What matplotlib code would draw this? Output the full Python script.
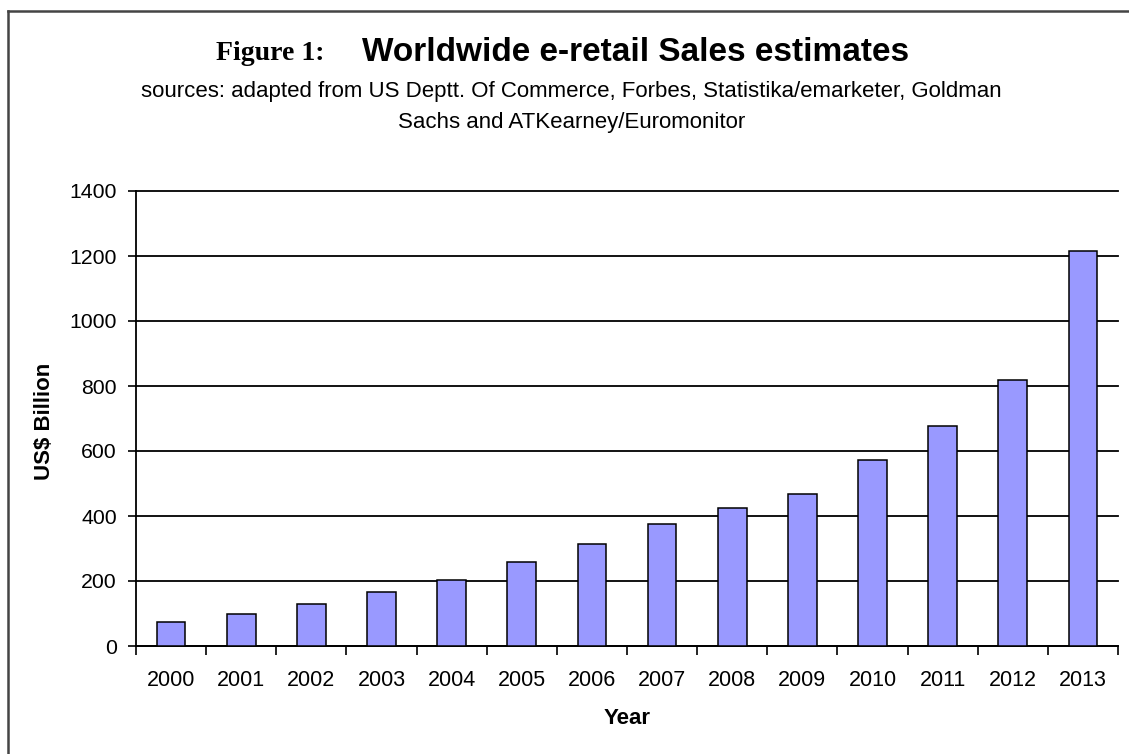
import matplotlib
matplotlib.use('Agg')
import matplotlib.pyplot as plt
import numpy as np
from matplotlib.lines import Line2D

# ---- data ----
years = ['2000', '2001', '2002', '2003', '2004', '2005', '2006',
         '2007', '2008', '2009', '2010', '2011', '2012', '2013']
sales = [73, 98, 128, 165, 203, 258, 314, 375, 424, 467, 571, 677, 818, 1215]
yticks = [0, 200, 400, 600, 800, 1000, 1200, 1400]

title_prefix = 'Figure 1:'
title_main = 'Worldwide e-retail Sales estimates'
subtitle_1 = 'sources: adapted from US Deptt. Of Commerce, Forbes, Statistika/emarketer, Goldman'
subtitle_2 = 'Sachs and ATKearney/Euromonitor'
ylabel = 'US$ Billion'
xlabel = 'Year'

plt.rcParams['font.family'] = ['Liberation Sans', 'DejaVu Sans']

W, H = 1129, 754
fig = plt.figure(figsize=(W / 100, H / 100), dpi=100)
fig.patch.set_facecolor('white')

ax_l, ax_r, ax_t, ax_b = 136, 1118, 191, 646
ax = fig.add_axes([ax_l / W, (H - ax_b) / H, (ax_r - ax_l) / W, (ax_b - ax_t) / H])

x = np.arange(len(years))
ax.bar(x, sales, width=0.41, color='#9999FF', edgecolor='black',
       linewidth=1.1, zorder=3)

ax.set_xlim(-0.5, len(years) - 0.5)
ax.set_ylim(0, 1400)
ax.set_yticks(yticks)
ax.set_yticklabels([str(v) for v in yticks], fontsize=15.3)
ax.set_xticks(x)
ax.set_xticklabels(years, fontsize=15.5)
ax.set_xticks(np.arange(-0.5, len(years), 1.0), minor=True)
ax.tick_params(axis='x', which='major', length=0, pad=17)
ax.tick_params(axis='x', which='minor', length=6.5, width=1.2, direction='out')
ax.tick_params(axis='y', which='major', length=5.8, width=1.2, pad=8, direction='out')

ax.set_axisbelow(True)
ax.yaxis.grid(True, color='black', linewidth=1.3)
for gl in ax.get_ygridlines():
    gl.set_clip_on(False)

for s in ['top', 'right']:
    ax.spines[s].set_visible(False)
for s in ['left', 'bottom']:
    ax.spines[s].set_linewidth(1.3)
    ax.spines[s].set_color('black')

# axis labels
fig.text(45 / W, 1 - 421 / H, ylabel, rotation=90, fontsize=16, fontweight='bold',
         ha='center', va='center')
fig.text(627 / W, 1 - 719 / H, xlabel, fontsize=16, fontweight='bold',
         ha='center', va='center')

# title
fig.text(216 / W, 1 - 60 / H, title_prefix, fontsize=20, fontweight='bold',
         family=['Liberation Serif', 'DejaVu Serif'], ha='left', va='baseline')
fig.text(362 / W, 1 - 61 / H, title_main, fontsize=24, fontweight='bold',
         ha='left', va='baseline')
fig.text(571 / W, 1 - 97 / H, subtitle_1, fontsize=16, ha='center', va='baseline')
fig.text(572 / W, 1 - 128 / H, subtitle_2, fontsize=16, ha='center', va='baseline')

# figure frame (top and left edges)
fig.add_artist(Line2D([7.5 / W, 1.0], [1 - 10.5 / H, 1 - 10.5 / H],
                      transform=fig.transFigure, color='#444444', linewidth=1.8))
fig.add_artist(Line2D([7.5 / W, 7.5 / W], [0.0, 1 - 10.5 / H],
                      transform=fig.transFigure, color='#444444', linewidth=1.8))

fig.savefig('out.png', dpi=100)
